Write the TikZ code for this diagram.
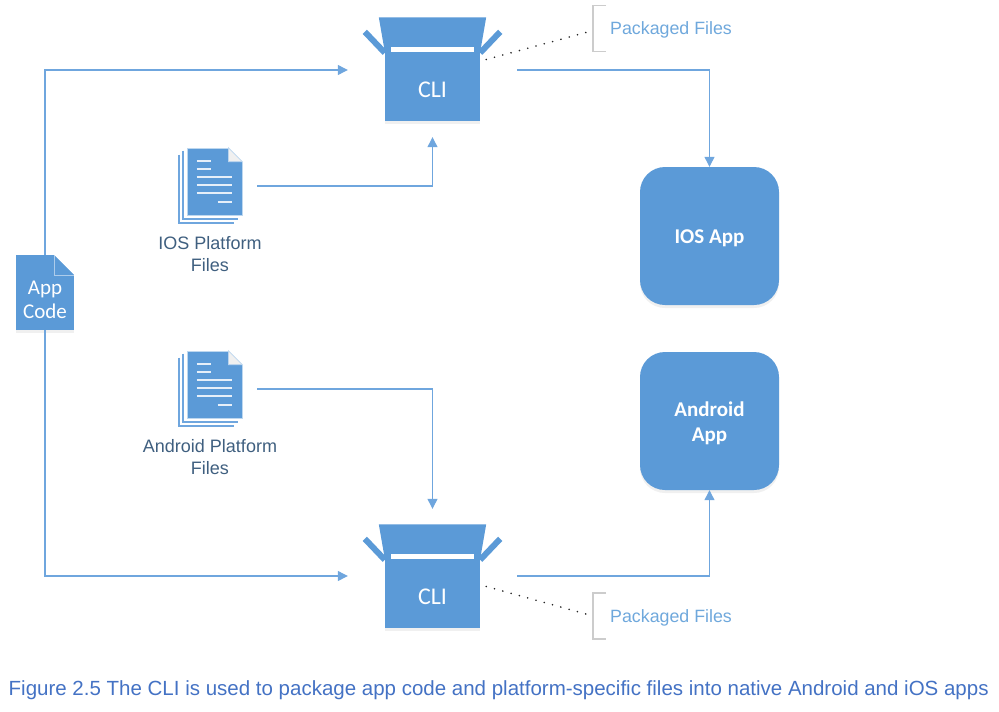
\documentclass[tikz,border=0pt]{standalone}
\usepackage{fontspec}
\setmainfont{Liberation Sans}
\newfontfamily\calibri{Carlito}
\usetikzlibrary{arrows.meta,shadows}
\definecolor{boxblue}{HTML}{5B9AD7}
\definecolor{lineblue}{HTML}{6FA6DE}
\definecolor{labelblue}{HTML}{6FA8DC}
\definecolor{labeldark}{HTML}{3F5F7F}
\definecolor{captionblue}{HTML}{4472C4}
\begin{document}
\begin{tikzpicture}[x=1pt,y=-1pt]
\tikzstyle{arrow} = [draw = lineblue, line width = 1.2pt, -{Stealth[length = 10pt, width = 10pt, inset = 0pt]}]
\tikzstyle{softshadow} = [drop shadow = {opacity = 0.12, shadow xshift = 0pt, shadow yshift = -3pt}]
\tikzstyle{cli} = [rectangle, fill = boxblue, minimum width = 95pt, minimum height = 69pt, softshadow]
\tikzstyle{clitext} = [text = white, yshift = -3pt, font = \calibri\fontsize{24}{26}\selectfont]
\tikzstyle{app} = [rectangle, rounded corners = 25pt, fill = boxblue, minimum width = 139pt, minimum height = 138pt, softshadow]
\tikzstyle{apptext} = [text = white, align = center, yshift = -2pt, font = \calibri\bfseries\fontsize{21}{25}\selectfont]
\tikzstyle{page} = [rectangle, fill = boxblue, draw = boxblue!40!white, line width = 0.6pt, minimum width = 55pt, minimum height = 67pt]
\tikzstyle{textline} = [draw = white, line width = 1.6pt, opacity = 0.85]
\tikzstyle{packaged} = [anchor = west, inner sep = 0pt, text = labelblue, font = \fontsize{17.8}{20}\selectfont]
\tikzstyle{bracket} = [draw = black!20, line width = 1.5pt]
\tikzstyle{platform} = [align = center, text = labeldark, font = \fontsize{18}{22}\selectfont]
\useasboundingbox (0,0) rectangle (999,712);
\node[cli, label = {[clitext]center:CLI}](cliTop) at (432.5,86.5){};
\node[cli, label = {[clitext]center:CLI}](cliBottom) at (432.5,593.5){};
\foreach \cli in {cliTop,cliBottom}{
  \fill[boxblue] ([shift={(-6pt,34.5pt)}]\cli.north west) -- ([shift={(6pt,34.5pt)}]\cli.north east) -- (\cli.north east) -- (\cli.north west) -- cycle;
  \draw[boxblue, line width = 6pt] ([yshift=-1pt]\cli.north west) -- ([shift={(-20pt,20pt)}]\cli.north west);
  \draw[boxblue, line width = 6pt] ([yshift=-1pt]\cli.north east) -- ([shift={(20pt,20pt)}]\cli.north east);
  \fill[white] ([shift={(6pt,5pt)}]\cli.north west) rectangle ([xshift=-6pt]\cli.north east);
}
\node[app, label = {[apptext]center:IOS App}](iosApp) at (709.5,236){};
\node[app, label = {[apptext]center:Android\\App}](androidApp) at (709.5,421){};
% app code
\node[rectangle, fill = boxblue, minimum width = 58pt, minimum height = 75pt, softshadow, label = {[text = white, align = center, yshift = -7pt, font = \calibri\fontsize{21}{24}\selectfont]center:App\\Code}](appCode) at (45,292.5){};
\fill[white] ([xshift=-20pt]appCode.north east) -- ([xshift=0.5pt,yshift=0.5pt]appCode.north east) -- ([yshift=-20pt]appCode.north east) -- cycle;
\draw[white, opacity = 0.5, line width = 0.6pt] ([xshift=-20pt]appCode.north east) -- ([shift={(-20pt,-20pt)}]appCode.north east) -- ([yshift=-20pt]appCode.north east);
% platform files
\node[page](docIos) at (214.5,181.5){};
\node[page](docAndroid) at (214.5,384.5){};
\foreach \doc in {docIos,docAndroid}{
  \draw[lineblue, line width = 2.2pt] ([xshift=-4pt,yshift=-3pt]\doc.north west) -- ([shift={(-4pt,-4pt)}]\doc.south west) -- ([shift={(-4pt,-4pt)}]\doc.south east);
  \draw[lineblue, line width = 2.2pt] ([xshift=-8pt,yshift=-7pt]\doc.north west) -- ([shift={(-8pt,-8pt)}]\doc.south west) -- ([shift={(-8pt,-8pt)}]\doc.south east);
  \fill[white] ([xshift=-15pt,yshift=1pt]\doc.north east) -- ([shift={(1pt,1pt)}]\doc.north east) -- ([xshift=1pt,yshift=-15pt]\doc.north east) -- cycle;
  \filldraw[draw = boxblue!40!white, fill = black!6, line width = 0.6pt] ([xshift=-14pt]\doc.north east) -- ([yshift=-14pt]\doc.north east) -- ([shift={(-14pt,-14pt)}]\doc.north east) -- cycle;
  \draw[textline] ([shift={(10pt,-13pt)}]\doc.north west) -- ++(14pt,0);
  \draw[textline] ([shift={(10pt,-21pt)}]\doc.north west) -- ++(14pt,0);
  \draw[textline] ([shift={(10pt,-29pt)}]\doc.north west) -- ++(35pt,0);
  \draw[textline] ([shift={(10pt,-37pt)}]\doc.north west) -- ++(35pt,0);
  \draw[textline] ([shift={(10pt,-45pt)}]\doc.north west) -- ++(35pt,0);
  \draw[textline] ([shift={(31pt,-54pt)}]\doc.north west) -- ++(14pt,0);
}
\node[platform](iosFiles) at (210,254){IOS Platform\\Files};
\node[platform](androidFiles) at (210,457.5){Android Platform\\Files};
% packaged files
\node[packaged](packedTop) at (610,29.5){Packaged Files};
\node[packaged](packedBottom) at (610,617.5){Packaged Files};
\draw[bracket] ([shift={(-4pt,24pt)}]packedTop.west) -- ++(-13pt,0) -- ++(0,46) -- ++(13pt,0);
\draw[bracket] ([shift={(-4pt,24.5pt)}]packedBottom.west) -- ++(-13pt,0) -- ++(0,46) -- ++(13pt,0);
\draw[black!85, line width = 1.8pt, line cap = round, dash pattern = on 0pt off 8.6pt] ([shift={(6pt,27pt)}]cliTop.east) -- ([shift={(-24pt,-3pt)}]packedTop.west);
\draw[black!85, line width = 1.8pt, line cap = round, dash pattern = on 0pt off 8.6pt] ([shift={(6pt,7pt)}]cliBottom.east) -- ([shift={(-24pt,3.5pt)}]packedBottom.west);
% connectors
\draw[arrow, shorten > = 37pt] (appCode.north) |- ([yshift=16.5pt]cliTop.west);
\draw[arrow, shorten > = 37pt] (appCode.south) |- ([yshift=17.5pt]cliBottom.west);
\draw[arrow, shorten < = 15pt, shorten > = 16pt] ([yshift=-4.5pt]docIos.east) -| (cliTop.south);
\draw[arrow, shorten < = 15pt, shorten > = 50pt] ([yshift=-4.5pt]docAndroid.east) -| (cliBottom.north);
\draw[arrow, shorten < = 37pt] ([yshift=16.5pt]cliTop.east) -| (iosApp.north);
\draw[arrow, shorten < = 37pt] ([yshift=17.5pt]cliBottom.east) -| (androidApp.south);
\node[anchor = base west, inner sep = 0pt, text = captionblue, font = \fontsize{20.5}{22}\selectfont](caption) at (8.5,695){Figure 2.5 The CLI is used to package app code and platform-specific files into native Android and iOS apps};
\end{tikzpicture}
\end{document}
